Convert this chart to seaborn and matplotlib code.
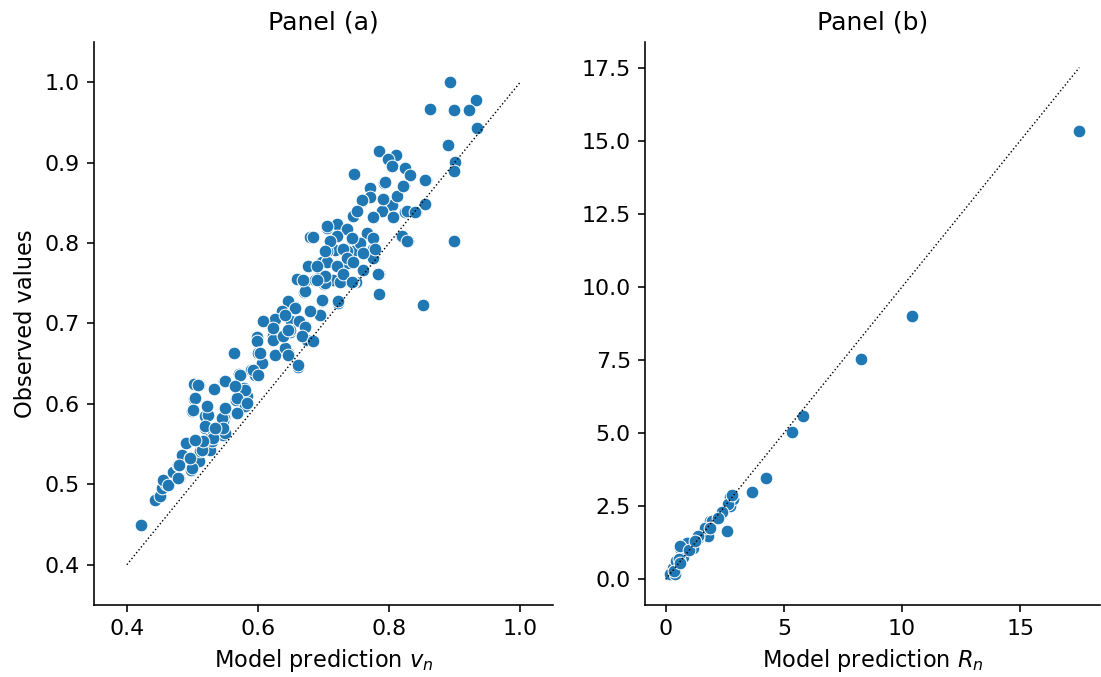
import numpy as np
import matplotlib
matplotlib.use('Agg')
import matplotlib.pyplot as plt
import seaborn as sns

# ── Data: panel (a) ───────────────────────────────────────
x_a = [0.893, 0.863, 0.899, 0.933, 0.922, 0.934, 0.890, 0.901, 0.899,
       0.785, 0.811, 0.798, 0.805, 0.824, 0.832, 0.747, 0.856, 0.823, 0.792,
       0.855, 0.841, 0.824, 0.818, 0.829, 0.899, 0.852, 0.785, 0.785, 0.777, 0.760, 0.749,
       0.679, 0.705, 0.771, 0.771, 0.792, 0.805, 0.812, 0.789, 0.776, 0.806, 0.745, 0.759,
       0.736, 0.766, 0.744, 0.710, 0.721, 0.736, 0.718, 0.705, 0.745, 0.776, 0.698, 0.705,
       0.676, 0.722, 0.737, 0.660, 0.670, 0.692, 0.701, 0.727, 0.715, 0.670, 0.698, 0.722,
       0.656, 0.679, 0.693, 0.646, 0.637, 0.609, 0.626, 0.650, 0.672, 0.663, 0.598, 0.623, 0.649,
       0.421, 0.443, 0.450, 0.453, 0.460, 0.455, 0.470, 0.479, 0.478, 0.484, 0.498, 0.496,
       0.490, 0.499, 0.502, 0.502, 0.510, 0.510, 0.511, 0.513, 0.527, 0.530, 0.533, 0.519,
       0.519, 0.524, 0.522, 0.533, 0.547, 0.548, 0.550, 0.548, 0.565, 0.566, 0.566, 0.580,
       0.583, 0.579, 0.571, 0.563, 0.589, 0.595, 0.598, 0.602, 0.606, 0.626, 0.646, 0.661,
       0.623, 0.641, 0.638, 0.649, 0.672, 0.684, 0.675,
       0.463, 0.499, 0.514, 0.527, 0.531, 0.547, 0.550, 0.519, 0.478, 0.479, 0.496,
       0.573, 0.550, 0.508, 0.580, 0.504, 0.568, 0.583, 0.501, 0.545, 0.547, 0.531, 0.592,
       0.600, 0.565, 0.550, 0.568, 0.534, 0.516, 0.504, 0.600,
       0.760, 0.745, 0.702, 0.687, 0.672, 0.656, 0.695, 0.641, 0.608, 0.623, 0.646, 0.667,
       0.684, 0.646, 0.661, 0.705, 0.736, 0.725, 0.669, 0.698, 0.722, 0.679, 0.603,
       0.794, 0.855, 0.759, 0.827, 0.855, 0.745, 0.806, 0.705, 0.736, 0.766, 0.684, 0.820,
       0.827, 0.730, 0.756, 0.776, 0.783, 0.721, 0.710, 0.744, 0.776, 0.702, 0.760, 0.779,
       0.736, 0.690, 0.721, 0.745, 0.702, 0.730, 0.690, 0.744, 0.821, 0.791, 0.840, 0.776, 0.751]
y_a = [1.000, 0.967, 0.966, 0.978, 0.966, 0.943, 0.922, 0.901, 0.890,
       0.914, 0.909, 0.904, 0.896, 0.893, 0.884, 0.886, 0.879, 0.871, 0.875,
       0.849, 0.839, 0.839, 0.809, 0.803, 0.802, 0.723, 0.737, 0.762, 0.781, 0.767, 0.751,
       0.808, 0.819, 0.868, 0.857, 0.855, 0.847, 0.859, 0.840, 0.832, 0.832, 0.834, 0.852,
       0.818, 0.813, 0.804, 0.801, 0.824, 0.790, 0.791, 0.790, 0.790, 0.793, 0.777, 0.776,
       0.771, 0.772, 0.775, 0.755, 0.752, 0.756, 0.749, 0.751, 0.754, 0.739, 0.728, 0.725,
       0.720, 0.716, 0.710, 0.728, 0.715, 0.703, 0.706, 0.703, 0.697, 0.703, 0.683, 0.684, 0.690,
       0.450, 0.481, 0.486, 0.496, 0.500, 0.505, 0.515, 0.508, 0.524, 0.537, 0.518, 0.533,
       0.551, 0.591, 0.606, 0.625, 0.623, 0.529, 0.541, 0.550, 0.543, 0.554, 0.566, 0.570,
       0.585, 0.586, 0.597, 0.618, 0.561, 0.582, 0.595, 0.628, 0.622, 0.605, 0.589, 0.598,
       0.610, 0.620, 0.637, 0.663, 0.642, 0.636, 0.678, 0.663, 0.651, 0.661, 0.663, 0.646,
       0.679, 0.669, 0.685, 0.692, 0.695, 0.678, 0.679,
       0.499, 0.520, 0.543, 0.558, 0.566, 0.579, 0.564, 0.572, 0.508, 0.524, 0.533,
       0.636, 0.629, 0.623, 0.617, 0.607, 0.607, 0.601, 0.592, 0.582, 0.570, 0.558, 0.642,
       0.636, 0.622, 0.595, 0.589, 0.570, 0.554, 0.555, 0.663,
       0.766, 0.752, 0.750, 0.754, 0.740, 0.719, 0.710, 0.710, 0.703, 0.694, 0.692, 0.684,
       0.678, 0.661, 0.648, 0.777, 0.790, 0.752, 0.754, 0.729, 0.728, 0.716, 0.663,
       0.876, 0.878, 0.853, 0.840, 0.848, 0.834, 0.833, 0.821, 0.818, 0.812, 0.808, 0.809,
       0.803, 0.793, 0.800, 0.782, 0.762, 0.809, 0.802, 0.806, 0.806, 0.790, 0.787, 0.793,
       0.781, 0.772, 0.772, 0.777, 0.759, 0.762, 0.754, 0.752, 0.871, 0.855, 0.839, 0.833, 0.840]
line_a = [0.4, 1.0]
lim_a = (0.35, 1.05)

# ── Data: panel (b) ───────────────────────────────────────
x_b = [17.50, 10.41, 8.28, 5.82, 5.35, 4.25, 3.65, 2.59, 2.72, 2.85, 2.38, 1.87,
       1.70, 1.78, 1.36, 1.15, 0.59, 0.72, 0.47, 0.25, 2.72, 2.63, 2.38, 1.95,
       1.66, 1.87, 1.36, 0.72, 0.89, 0.30, 0.17, 0.38, 0.59, 0.45, 0.55, 1.00,
       1.25, 2.20, 2.80, 0.35, 0.60]
y_b = [15.34, 9.00, 7.53, 5.59, 5.05, 3.48, 3.00, 1.67, 2.52, 2.76, 2.28, 1.98,
       1.70, 1.50, 1.43, 1.06, 1.06, 0.78, 0.48, 0.20, 2.83, 2.59, 2.32, 1.98,
       1.74, 1.74, 1.47, 1.06, 1.23, 0.38, 0.20, 0.20, 1.13, 0.62, 0.70, 1.00,
       1.30, 2.10, 2.90, 0.30, 0.55]
line_b = [0.0, 17.5]
lim_b = (-0.875, 18.375)

# ── Plot ──────────────────────────────────────────────────
sns.set_style('ticks', {'axes.edgecolor': 'black', 'text.color': 'black',
                        'axes.labelcolor': 'black', 'xtick.color': 'black',
                        'ytick.color': 'black'})
plt.rcParams['font.family'] = ['DejaVu Sans']
plt.rcParams['xtick.labelsize'] = 11
plt.rcParams['ytick.labelsize'] = 11
plt.rcParams['axes.labelsize'] = 11.2

fig, axes = plt.subplots(1, 2, figsize=(1101 / 145, 677 / 145), dpi=145)
axes[0].set_position([0.0854, 0.1064, 0.4169, 0.8316])
axes[1].set_position([0.5858, 0.1064, 0.4133, 0.8316])

ax = axes[0]
sns.scatterplot(x=x_a, y=y_a, ax=ax, color='#1f77b4', s=40)
ax.plot(line_a, line_a, ls=':', color='black', lw=0.7)
ax.set_xlim(lim_a)
ax.set_ylim(lim_a)
ax.set_xticks([0.4, 0.6, 0.8, 1.0])
ax.set_title('Panel (a)', fontsize=12.5)
ax.set_xlabel('Model prediction $v_n$')
ax.set_ylabel('Observed values')

ax = axes[1]
sns.scatterplot(x=x_b, y=y_b, ax=ax, color='#1f77b4', s=40)
ax.plot(line_b, line_b, ls=':', color='black', lw=0.7)
ax.set_xlim(lim_b)
ax.set_ylim(lim_b)
ax.set_title('Panel (b)', fontsize=12.5)
ax.set_xlabel('Model prediction $R_n$')

sns.despine(fig=fig)
plt.savefig('out.png', dpi=145)
